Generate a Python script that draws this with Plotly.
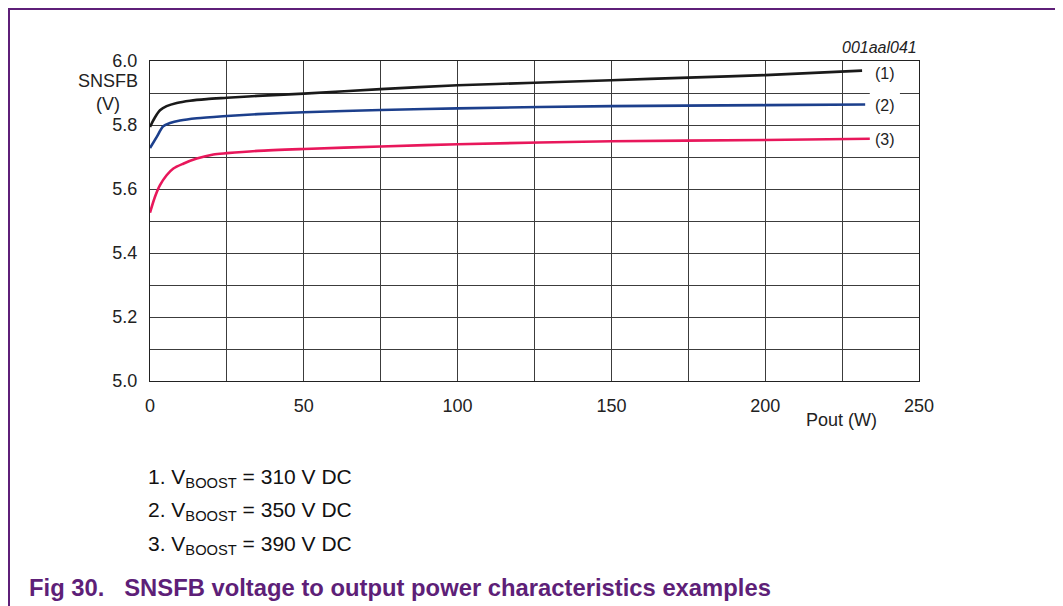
import plotly.graph_objects as go

# ---- data ----
x_310 = [0, 1.5, 3.25, 5.4, 8.7, 13, 18.4, 25, 35, 50, 75, 100, 125, 150, 175, 200, 231.5]
y_310 = [5.794, 5.822, 5.846, 5.859, 5.869, 5.876, 5.881, 5.885, 5.891, 5.898, 5.912, 5.924, 5.932, 5.940, 5.948, 5.956, 5.970]

x_350 = [0, 2.2, 4.3, 6.5, 9.75, 15.2, 25, 35, 50, 75, 100, 150, 200, 232.5]
y_350 = [5.728, 5.763, 5.796, 5.806, 5.814, 5.821, 5.828, 5.834, 5.840, 5.847, 5.852, 5.859, 5.862, 5.864]

x_390 = [0, 1.6, 3.25, 5.4, 7.6, 10.8, 15.2, 20.6, 25, 35, 50, 75, 100, 150, 200, 234]
y_390 = [5.526, 5.575, 5.612, 5.643, 5.664, 5.679, 5.695, 5.708, 5.712, 5.719, 5.725, 5.733, 5.740, 5.749, 5.753, 5.757]

curve_labels = ["(1)", "(2)", "(3)"]
label_y = [5.961, 5.8625, 5.755]
x_ticks = [0, 50, 100, 150, 200, 250]
y_ticks = [5.0, 5.2, 5.4, 5.6, 5.8, 6.0]
notes = ["1. V<sub>BOOST</sub> = 310 V DC",
         "2. V<sub>BOOST</sub> = 350 V DC",
         "3. V<sub>BOOST</sub> = 390 V DC"]
title_text = "Fig 30.&#160;&#160; SNSFB voltage to output power characteristics examples"

# page has an 8px body margin; figure placed so the plot area sits at screen x 150..919, y 61..381
OFF = 8
W, H = 1055, 598
L, R, T, B = 150, 919, 61, 381   # screen pixels
def px(x):
    return (x - L) / (R - L)
def py(y):
    return (B - y) / (B - T)

FONT = "Liberation Sans, Arial, sans-serif"
PURPLE = "#5e1f78"

fig = go.Figure()
colors = ["#1a1a1a", "#1c3f8c", "#e8175b"]
for xs, ys, c in [(x_310, y_310, colors[0]), (x_350, y_350, colors[1]), (x_390, y_390, colors[2])]:
    fig.add_trace(go.Scatter(x=xs, y=ys, mode="lines",
                             line=dict(color=c, width=2.6, shape="spline", smoothing=0.8),
                             showlegend=False, hoverinfo="skip"))

grid = "#3c3c3c"
fig.update_xaxes(range=[0, 250], tickvals=x_ticks, ticktext=[str(v) for v in x_ticks],
                 showgrid=True, gridcolor=grid, gridwidth=1,
                 minor=dict(dtick=25, tick0=0, showgrid=True, gridcolor=grid, gridwidth=1),
                 showline=True, linecolor="#222", linewidth=1.2, mirror=True,
                 ticks="", zeroline=False, ticklabelstandoff=8,
                 tickfont=dict(family=FONT, size=18, color="#222"))
fig.update_yaxes(range=[5.0, 6.0], tickvals=y_ticks, ticktext=["%.1f" % v for v in y_ticks],
                 showgrid=True, gridcolor=grid, gridwidth=1,
                 minor=dict(dtick=0.1, tick0=5.0, showgrid=True, gridcolor=grid, gridwidth=1),
                 showline=True, linecolor="#222", linewidth=1.2, mirror=True,
                 ticks="", zeroline=False, ticklabelstandoff=8,
                 tickfont=dict(family=FONT, size=18, color="#222"))

shapes = []
# gaps in top border and 5.9 gridline behind label (1)
for yv in [6.0, 5.9]:
    shapes.append(dict(type="rect", xref="x", yref="y", x0=234.0, x1=243.8,
                       y0=yv - 0.006, y1=yv + 0.006, fillcolor="white", line=dict(width=0), layer="above"))
# purple frame
shapes.append(dict(type="rect", xref="paper", yref="paper", x0=px(9), x1=px(1061), y0=py(640), y1=py(9),
                   line=dict(color=PURPLE, width=2), fillcolor="rgba(0,0,0,0)", layer="below"))

ann = []
for lab, yv in zip(curve_labels, label_y):
    ann.append(dict(x=239.1, y=yv, xref="x", yref="y", text=lab, showarrow=False,
                    font=dict(family=FONT, size=16, color="#222"), xanchor="center", yanchor="middle"))
ann.append(dict(x=px(107.5), y=py(92), xref="paper", yref="paper", text="SNSFB<br>(V)", showarrow=False,
                font=dict(family=FONT, size=18, color="#222"), xanchor="center", yanchor="middle"))
ann.append(dict(x=px(841), y=py(420), xref="paper", yref="paper", text="Pout (W)", showarrow=False,
                font=dict(family=FONT, size=18, color="#222"), xanchor="center", yanchor="middle"))
ann.append(dict(x=px(919), y=py(47), xref="paper", yref="paper", text="<i>001aal041</i>", showarrow=False,
                font=dict(family=FONT, size=16, color="#222"), xanchor="right", yanchor="middle"))
for t, yc in zip(notes, [478, 511, 545]):
    ann.append(dict(x=px(146), y=py(yc), xref="paper", yref="paper", text=t, showarrow=False,
                    font=dict(family=FONT, size=21, color="#111"), xanchor="left", yanchor="middle"))
ann.append(dict(x=px(27), y=py(587), xref="paper", yref="paper", text="<b>" + title_text + "</b>", showarrow=False,
                font=dict(family=FONT, size=23.8, color=PURPLE), xanchor="left", yanchor="middle"))

fig.update_layout(width=W, height=H, margin=dict(l=L - OFF, r=(W + OFF) - R, t=T - OFF, b=(H + OFF) - B),
                  paper_bgcolor="white", plot_bgcolor="white",
                  shapes=shapes, annotations=ann, showlegend=False)

fig.write_html("out.html")
